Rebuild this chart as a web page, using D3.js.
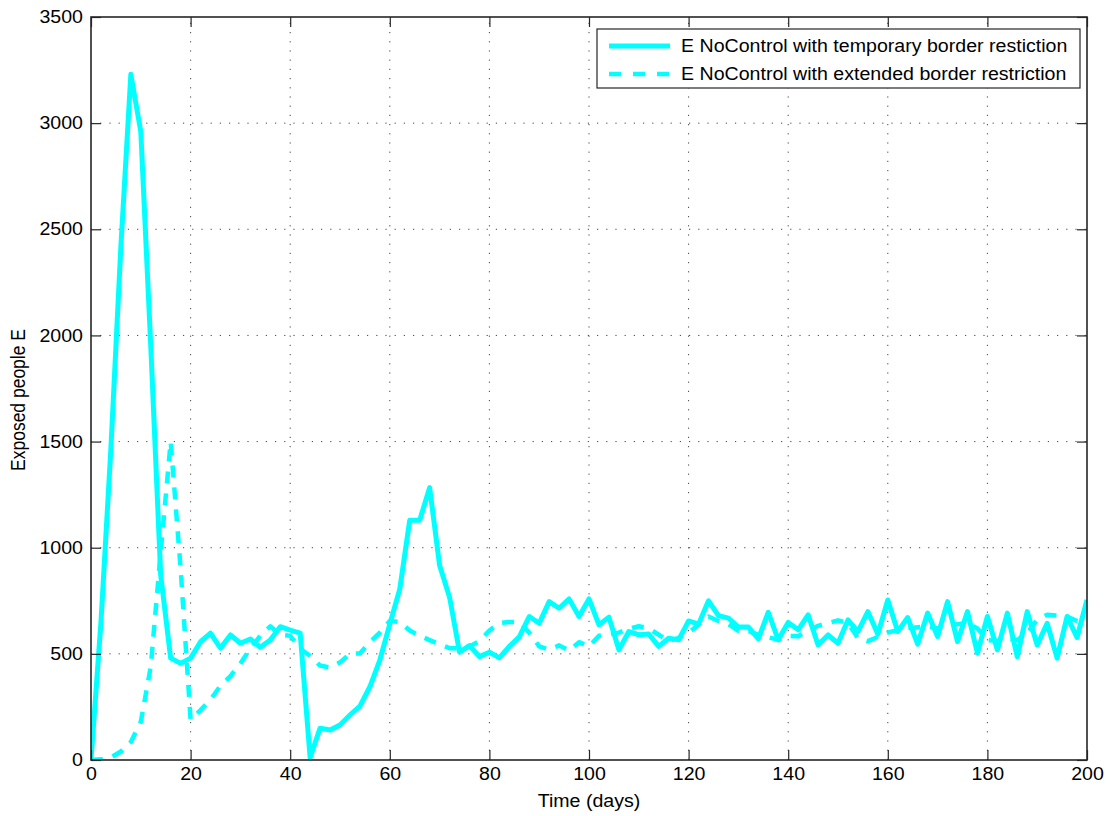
<!DOCTYPE html>
<html>
<head>
<meta charset="utf-8">
<script src="https://cdn.jsdelivr.net/npm/d3@7/dist/d3.min.js"></script>
<style>
  html, body { margin: 0; padding: 0; background: #fff; }
  svg text { font-family: "Liberation Sans", Arial, sans-serif; fill: #000; }
</style>
</head>
<body>
<svg id="chart" width="1117" height="816"></svg>
<script>
// Simulation output, sampled every 2 days
const days = d3.range(0, 201, 2);

const temporaryRestriction = [
  0, 650, 1470, 2420, 3230, 2960, 1950, 870, 480, 455,
  480, 557, 597, 527, 589, 550, 570, 531, 565, 628,
  612, 598, 12, 150, 141, 165, 212, 254, 345, 471,
  640, 805, 1129, 1129, 1283, 917, 767, 508, 539, 487,
  508, 481, 535, 580, 676, 644, 746, 715, 759, 676,
  759, 637, 673, 519, 605, 590, 593, 535, 574, 566,
  655, 640, 750, 680, 668, 626, 626, 571, 696, 566,
  648, 613, 684, 542, 589, 550, 660, 605, 699, 593,
  754, 605, 671, 546, 692, 582, 746, 558, 699, 503,
  676, 519, 692, 487, 699, 542, 644, 480, 676, 577,
  754
];

const extendedRestriction = [
  0, 3, 12, 40, 85, 180, 440, 980, 1500, 900,
  190, 235, 285, 350, 395, 455, 525, 585, 630, 590,
  585, 525, 490, 445, 435, 460, 500, 502, 555, 600,
  655, 650, 610, 585, 565, 545, 527, 527, 535, 560,
  610, 645, 650, 650, 600, 535, 520, 540, 515, 555,
  535, 585, 593, 600, 618, 630, 620, 590, 560, 575,
  600, 637, 676, 655, 640, 608, 608, 590, 578, 566,
  585, 583, 610, 632, 645, 658, 645, 575, 560, 580,
  600, 613, 621, 625, 630, 620, 630, 640, 645, 620,
  565, 562, 572, 565, 600, 660, 684, 680, 676, 655,
  637
];

const xTicks = d3.range(0, 201, 20);
const yTicks = d3.range(0, 3501, 500);

const seriesNames = [
  "E NoControl with temporary border restiction",
  "E NoControl with extended border restriction"
];

const margin = { left: 91, right: 30, top: 17, bottom: 56 };
const W = 1117, H = 816;
const x0 = margin.left, x1 = W - margin.right;
const y0 = H - margin.bottom, y1 = margin.top;

const fontSize = 17.5;
const stretch = 1.12;   // glyphs are drawn slightly wide

const svg = d3.select("#chart");
const x = d3.scaleLinear().domain([0, 200]).range([x0, x1]);
const y = d3.scaleLinear().domain([0, 3500]).range([y0, y1]);

const axisColor = "#262626";
const cyan = "#00ffff";

// place a piece of text with its horizontal stretch
function addText(g, tx, ty, str, anchor, rotate) {
  return g.append("text")
    .attr("transform", `translate(${tx},${ty}) scale(${stretch},1)` + (rotate ? ` rotate(${rotate})` : ""))
    .attr("font-size", fontSize)
    .attr("text-anchor", anchor || "start")
    .text(str);
}

// dotted grid
const grid = svg.append("g");
grid.selectAll(".gx").data(xTicks.slice(1, -1)).join("line")
  .attr("x1", d => x(d)).attr("x2", d => x(d))
  .attr("y1", y0).attr("y2", y1)
  .attr("stroke", "#444").attr("stroke-width", 1)
  .attr("stroke-dasharray", "1.2,8");
grid.selectAll(".gy").data(yTicks.slice(1, -1)).join("line")
  .attr("y1", d => y(d)).attr("y2", d => y(d))
  .attr("x1", x0).attr("x2", x1)
  .attr("stroke", "#444").attr("stroke-width", 1)
  .attr("stroke-dasharray", "1.2,8");

// data lines
const line = vals => d3.line()
  .x((d, i) => x(days[i]))
  .y(d => y(d))(vals);

svg.append("clipPath").attr("id", "plotclip")
  .append("rect").attr("x", x0).attr("y", y1 - 4)
  .attr("width", x1 - x0).attr("height", y0 - y1 + 4);

const plot = svg.append("g").attr("clip-path", "url(#plotclip)");
plot.append("path").attr("d", line(extendedRestriction))
  .attr("fill", "none").attr("stroke", cyan).attr("stroke-width", 4.5)
  .attr("stroke-dasharray", "12,10").attr("stroke-linejoin", "round");
plot.append("path").attr("d", line(temporaryRestriction))
  .attr("fill", "none").attr("stroke", cyan).attr("stroke-width", 5)
  .attr("stroke-linejoin", "round");

// axes with inward ticks on all four sides
const tickLen = 10;
const fmt = d3.format("d");
const axisB = d3.axisBottom(x).tickValues(xTicks).tickFormat(fmt).tickSizeInner(-tickLen).tickSizeOuter(0).tickPadding(8);
const axisL = d3.axisLeft(y).tickValues(yTicks).tickFormat(fmt).tickSizeInner(-tickLen).tickSizeOuter(0).tickPadding(8);
const axisT = d3.axisTop(x).tickValues(xTicks).tickSizeInner(-tickLen).tickSizeOuter(0).tickFormat("");
const axisR = d3.axisRight(y).tickValues(yTicks).tickSizeInner(-tickLen).tickSizeOuter(0).tickFormat("");

function styleAxis(g) {
  g.select(".domain").remove();
  g.selectAll(".tick line").attr("stroke", axisColor).attr("stroke-width", 1.2);
  g.selectAll(".tick text").each(function () {
    const t = d3.select(this);
    const tx = +t.attr("x") || 0, ty = +t.attr("y") || 0;
    t.attr("x", 0).attr("y", 0)
      .attr("transform", `translate(${tx},${ty}) scale(${stretch},1)`)
      .attr("font-size", fontSize).attr("fill", "#000")
      .style("font-family", "'Liberation Sans', Arial, sans-serif");
  });
}

svg.append("g").attr("transform", `translate(0,${y0})`).call(axisB).call(styleAxis);
svg.append("g").attr("transform", `translate(${x0},0)`).call(axisL).call(styleAxis);
svg.append("g").attr("transform", `translate(0,${y1})`).call(axisT).call(styleAxis);
svg.append("g").attr("transform", `translate(${x1},0)`).call(axisR).call(styleAxis);

// axes box
svg.append("rect").attr("x", x0).attr("y", y1)
  .attr("width", x1 - x0).attr("height", y0 - y1)
  .attr("fill", "none").attr("stroke", axisColor).attr("stroke-width", 1.6);

// axis titles
addText(svg, (x0 + x1) / 2, 807, "Time (days)", "middle");
addText(svg, 25, 400, "Exposed people E", "middle", -90);

// legend
const lg = svg.append("g");
lg.append("rect").attr("x", 597).attr("y", 29).attr("width", 483).attr("height", 59)
  .attr("fill", "#fff").attr("stroke", axisColor).attr("stroke-width", 1.2);
const rows = [
  { name: seriesNames[0], dash: null, w: 5 },
  { name: seriesNames[1], dash: "12,12", w: 4.5 }
];
rows.forEach((r, i) => {
  const cy = 46 + i * 28;
  const l = lg.append("line").attr("x1", 609).attr("x2", 670)
    .attr("y1", cy).attr("y2", cy)
    .attr("stroke", cyan).attr("stroke-width", r.w);
  if (r.dash) l.attr("stroke-dasharray", r.dash);
  addText(lg, 681, cy + 6, r.name, "start");
});
</script>
</body>
</html>
